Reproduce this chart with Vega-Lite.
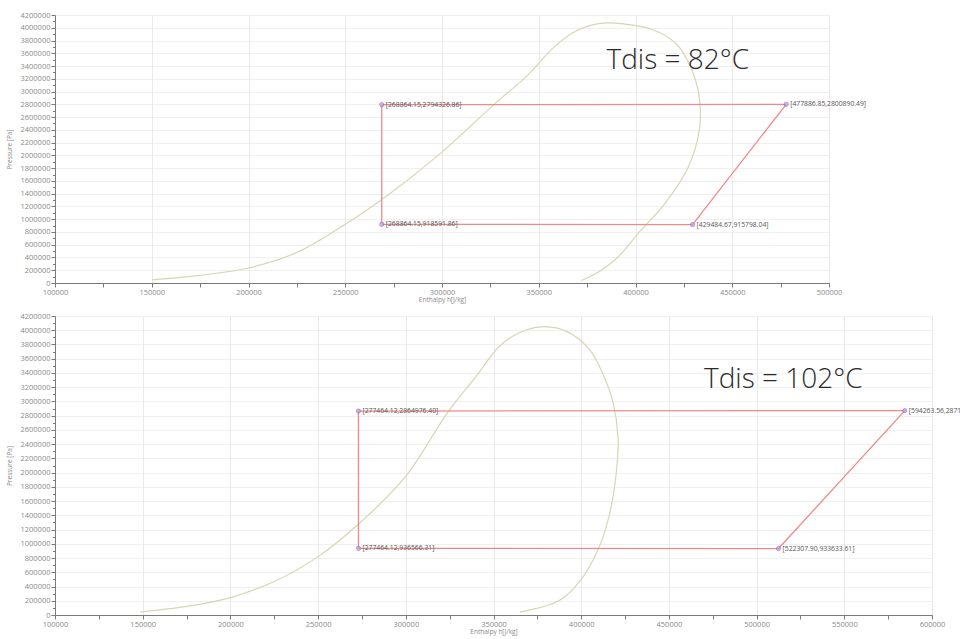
{
  "$schema": "https://vega.github.io/schema/vega-lite/v6.json",
  "background": "white",
  "padding": {"left": 6, "top": 11, "right": 2, "bottom": 2},
  "bounds": "flush",
  "spacing": 33,
  "config": {
    "view": {"stroke": null},
    "font": "Open Sans",
    "axis": {
      "labelFont": "Open Sans",
      "labelFontSize": 7.5,
      "labelColor": "#8a8a8a",
      "titleFont": "Open Sans",
      "titleFontSize": 6.5,
      "titleFontWeight": "normal",
      "titleColor": "#8a8a8a",
      "domainColor": "#7a7a7a",
      "tickColor": "#7a7a7a",
      "gridColor": "#e9e9e9",
      "labelPadding": 1,
      "titlePadding": 1,
      "labelFlush": false
    },
    "axisY": {"titlePadding": 7}
  },
  "datasets": {
    "domeTop": [
      {"h": 150000, "p": 50000, "o": 1},
      {"h": 175000, "p": 120000, "o": 2},
      {"h": 200000, "p": 235000, "o": 3},
      {"h": 225000, "p": 480000, "o": 4},
      {"h": 250000, "p": 920000, "o": 5},
      {"h": 273000, "p": 1400000, "o": 6},
      {"h": 298000, "p": 2000000, "o": 7},
      {"h": 327000, "p": 2800000, "o": 8},
      {"h": 344000, "p": 3250000, "o": 9},
      {"h": 358000, "p": 3700000, "o": 10},
      {"h": 370000, "p": 3960000, "o": 11},
      {"h": 382000, "p": 4070000, "o": 12},
      {"h": 394000, "p": 4060000, "o": 13},
      {"h": 408000, "p": 3980000, "o": 14},
      {"h": 421000, "p": 3750000, "o": 15},
      {"h": 429000, "p": 3350000, "o": 16},
      {"h": 433000, "p": 2900000, "o": 17},
      {"h": 433000, "p": 2400000, "o": 18},
      {"h": 427000, "p": 1800000, "o": 19},
      {"h": 414000, "p": 1200000, "o": 20},
      {"h": 402000, "p": 800000, "o": 21},
      {"h": 390000, "p": 380000, "o": 22},
      {"h": 378000, "p": 120000, "o": 23},
      {"h": 372000, "p": 40000, "o": 24}
    ],
    "domeBottom": [
      {"h": 148500, "p": 42000, "o": 1},
      {"h": 175000, "p": 120000, "o": 2},
      {"h": 200000, "p": 245000, "o": 3},
      {"h": 225000, "p": 470000, "o": 4},
      {"h": 250000, "p": 820000, "o": 5},
      {"h": 275000, "p": 1320000, "o": 6},
      {"h": 300000, "p": 1950000, "o": 7},
      {"h": 324000, "p": 2850000, "o": 8},
      {"h": 340000, "p": 3350000, "o": 9},
      {"h": 354000, "p": 3790000, "o": 10},
      {"h": 368000, "p": 4000000, "o": 11},
      {"h": 379000, "p": 4050000, "o": 12},
      {"h": 392000, "p": 3980000, "o": 13},
      {"h": 405000, "p": 3720000, "o": 14},
      {"h": 413000, "p": 3350000, "o": 15},
      {"h": 418000, "p": 3000000, "o": 16},
      {"h": 421000, "p": 2500000, "o": 17},
      {"h": 420000, "p": 2000000, "o": 18},
      {"h": 416000, "p": 1400000, "o": 19},
      {"h": 410000, "p": 940000, "o": 20},
      {"h": 400000, "p": 500000, "o": 21},
      {"h": 388000, "p": 210000, "o": 22},
      {"h": 365000, "p": 40000, "o": 23}
    ],
    "cycleTop": [
      {"h": 268864.15, "p": 918591.86, "o": 1, "label": "[268864.15,918591.86]"},
      {"h": 268864.15, "p": 2794326.86, "o": 2, "label": "[268864.15,2794326.86]"},
      {"h": 477886.85, "p": 2800890.49, "o": 3, "label": "[477886.85,2800890.49]"},
      {"h": 429484.67, "p": 915798.04, "o": 4, "label": "[429484.67,915798.04]"},
      {"h": 268864.15, "p": 918591.86, "o": 5, "label": ""}
    ],
    "cycleBottom": [
      {"h": 273000, "p": 936566.31, "o": 1, "label": "[277464.12,936566.31]"},
      {"h": 273000, "p": 2864976.40, "o": 2, "label": "[277464.12,2864976.40]"},
      {"h": 584500, "p": 2871000, "o": 3, "label": "[594263.56,2871"},
      {"h": 512500, "p": 933633.61, "o": 4, "label": "[522307.90,933633.61]"},
      {"h": 273000, "p": 936566.31, "o": 5, "label": ""}
    ],
    "noteTop": [{"h": 385000, "p": 3480000, "t": "Tdis = 82°C"}],
    "noteBottom": [{"h": 470000, "p": 3300000, "t": "Tdis = 102°C"}]
  },
  "vconcat": [
    {
      "width": 774,
      "height": 268,
      "encoding": {
        "x": {
          "field": "h", "type": "quantitative",
          "scale": {"domain": [100000, 500000], "nice": false, "zero": false},
          "axis": {
            "title": "Enthalpy h[J/kg]",
            "values": [100000,125000,150000,175000,200000,225000,250000,275000,300000,325000,350000,375000,400000,425000,450000,475000,500000],
            "labelExpr": "datum.value % 50000 === 0 ? datum.label : ''",
            "format": "d",
            "tickSize": 4,
            "gridOpacity": {"condition": {"test": "datum.value % 50000 === 0", "value": 1}, "value": 0}
          }
        },
        "y": {
          "field": "p", "type": "quantitative",
          "scale": {"domain": [0, 4200000], "nice": false, "zero": true},
          "axis": {
            "title": "Pressure [Pa]",
            "values": [0,100000,200000,300000,400000,500000,600000,700000,800000,900000,1000000,1100000,1200000,1300000,1400000,1500000,1600000,1700000,1800000,1900000,2000000,2100000,2200000,2300000,2400000,2500000,2600000,2700000,2800000,2900000,3000000,3100000,3200000,3300000,3400000,3500000,3600000,3700000,3800000,3900000,4000000,4100000,4200000],
            "labelExpr": "datum.value % 200000 === 0 ? datum.label : ''",
            "format": "d",
            "tickSize": {"condition": {"test": "datum.value % 200000 === 0", "value": 4}, "value": 2.5},
            "gridOpacity": {"condition": {"test": "datum.value % 200000 === 0", "value": 0.7}, "value": 0}
          }
        }
      },
      "layer": [
        {
          "data": {"name": "domeTop"},
          "mark": {"type": "line", "color": "#d8d5b4", "strokeWidth": 1.2, "interpolate": "catmull-rom"},
          "encoding": {"order": {"field": "o", "type": "quantitative"}}
        },
        {
          "data": {"name": "cycleTop"},
          "mark": {"type": "line", "color": "#f08a8a", "strokeWidth": 1.3},
          "encoding": {"order": {"field": "o", "type": "quantitative"}}
        },
        {
          "data": {"name": "cycleTop"},
          "transform": [{"filter": "datum.o <= 4"}],
          "mark": {"type": "point", "shape": "circle", "filled": true, "color": "#b7a3e0", "stroke": "#7b5cc4", "strokeWidth": 0.8, "size": 18},
          "encoding": {}
        },
        {
          "data": {"name": "cycleTop"},
          "transform": [{"filter": "datum.o <= 4"}],
          "mark": {"type": "text", "align": "left", "baseline": "middle", "dx": 4, "fontSize": 6.8, "color": "#555555", "font": "Open Sans"},
          "encoding": {"text": {"field": "label"}}
        },
        {
          "data": {"name": "noteTop"},
          "mark": {"type": "text", "align": "left", "baseline": "middle", "fontSize": 28, "fontWeight": 300, "color": "#2a2a2a", "font": "Open Sans"},
          "encoding": {"text": {"field": "t"}}
        }
      ]
    },
    {
      "width": 877,
      "height": 299,
      "encoding": {
        "x": {
          "field": "h", "type": "quantitative",
          "scale": {"domain": [100000, 600000], "nice": false, "zero": false},
          "axis": {
            "title": "Enthalpy h[J/kg]",
            "values": [100000,125000,150000,175000,200000,225000,250000,275000,300000,325000,350000,375000,400000,425000,450000,475000,500000,525000,550000,575000,600000],
            "labelExpr": "datum.value % 50000 === 0 ? datum.label : ''",
            "format": "d",
            "tickSize": 4,
            "gridOpacity": {"condition": {"test": "datum.value % 50000 === 0", "value": 1}, "value": 0}
          }
        },
        "y": {
          "field": "p", "type": "quantitative",
          "scale": {"domain": [0, 4200000], "nice": false, "zero": true},
          "axis": {
            "title": "Pressure [Pa]",
            "values": [0,100000,200000,300000,400000,500000,600000,700000,800000,900000,1000000,1100000,1200000,1300000,1400000,1500000,1600000,1700000,1800000,1900000,2000000,2100000,2200000,2300000,2400000,2500000,2600000,2700000,2800000,2900000,3000000,3100000,3200000,3300000,3400000,3500000,3600000,3700000,3800000,3900000,4000000,4100000,4200000],
            "labelExpr": "datum.value % 200000 === 0 ? datum.label : ''",
            "format": "d",
            "tickSize": {"condition": {"test": "datum.value % 200000 === 0", "value": 4}, "value": 2.5},
            "gridOpacity": {"condition": {"test": "datum.value % 200000 === 0", "value": 0.7}, "value": 0}
          }
        }
      },
      "layer": [
        {
          "data": {"name": "domeBottom"},
          "mark": {"type": "line", "color": "#d8d5b4", "strokeWidth": 1.2, "interpolate": "catmull-rom"},
          "encoding": {"order": {"field": "o", "type": "quantitative"}}
        },
        {
          "data": {"name": "cycleBottom"},
          "mark": {"type": "line", "color": "#f08a8a", "strokeWidth": 1.3},
          "encoding": {"order": {"field": "o", "type": "quantitative"}}
        },
        {
          "data": {"name": "cycleBottom"},
          "transform": [{"filter": "datum.o <= 4"}],
          "mark": {"type": "point", "shape": "circle", "filled": true, "color": "#b7a3e0", "stroke": "#7b5cc4", "strokeWidth": 0.8, "size": 18},
          "encoding": {}
        },
        {
          "data": {"name": "cycleBottom"},
          "transform": [{"filter": "datum.o <= 4"}],
          "mark": {"type": "text", "align": "left", "baseline": "middle", "dx": 4, "fontSize": 6.8, "color": "#555555", "font": "Open Sans"},
          "encoding": {"text": {"field": "label"}}
        },
        {
          "data": {"name": "noteBottom"},
          "mark": {"type": "text", "align": "left", "baseline": "middle", "fontSize": 28, "fontWeight": 300, "color": "#2a2a2a", "font": "Open Sans"},
          "encoding": {"text": {"field": "t"}}
        }
      ]
    }
  ]
}
